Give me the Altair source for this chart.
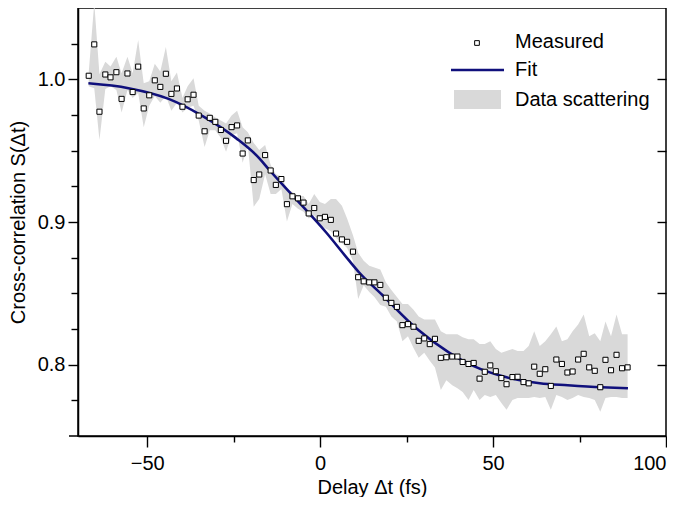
import altair as alt
import pandas as pd

# ---------------- data ----------------
delay_fs = [-66.9, -65.3, -63.8, -62.1, -60.6, -58.9, -57.4, -55.7, -54.2, -52.6,
            -51.0, -49.4, -47.8, -46.2, -44.6, -43.0, -41.4, -39.8, -38.3, -36.6,
            -35.1, -33.4, -31.9, -30.3, -28.7, -27.2, -25.6, -24.0, -22.4, -20.9,
            -19.2, -17.6, -15.9, -14.3, -12.8, -11.2, -9.6, -8.0, -6.4, -4.8,
            -3.3, -1.7, -0.1, 1.4, 3.1, 4.6, 6.3, 7.8, 9.5, 11.0,
            12.6, 14.2, 15.7, 17.4, 19.0, 20.6, 22.2, 23.8, 25.4, 27.0,
            28.5, 30.1, 31.7, 33.2, 34.9, 36.5, 38.2, 39.7, 41.2, 42.9,
            44.4, 46.1, 47.6, 49.2, 50.8, 52.4, 53.9, 55.6, 57.1, 58.8,
            60.3, 61.9, 63.5, 65.1, 66.7, 68.3, 69.9, 71.5, 73.0, 74.6,
            76.2, 77.8, 79.4, 81.0, 82.5, 84.1, 85.7, 87.3, 88.9]

measured = [1.0025, 1.0245, 0.9773, 1.0034, 1.0014, 1.0050, 0.9863, 1.0041, 0.9911, 1.0089,
            0.9796, 0.9888, 0.9993, 0.9947, 1.0039, 0.9898, 0.9936, 0.9808, 0.9860, 0.9892,
            0.9746, 0.9636, 0.9730, 0.9702, 0.9645, 0.9569, 0.9665, 0.9677, 0.9480, 0.9572,
            0.9294, 0.9333, 0.9469, 0.9361, 0.9260, 0.9301, 0.9125, 0.9180, 0.9166, 0.9136,
            0.9060, 0.9098, 0.9026, 0.9036, 0.9015, 0.8919, 0.8878, 0.8861, 0.8792, 0.8613,
            0.8584, 0.8577, 0.8577, 0.8559, 0.8469, 0.8433, 0.8405, 0.8277, 0.8284, 0.8266,
            0.8167, 0.8184, 0.8144, 0.8181, 0.8048, 0.8052, 0.8057, 0.8057, 0.8019, 0.8005,
            0.8012, 0.7902, 0.7950, 0.7995, 0.7954, 0.7906, 0.7863, 0.7913, 0.7915, 0.7878,
            0.7869, 0.7986, 0.7936, 0.7968, 0.7851, 0.8036, 0.8005, 0.7945, 0.7952, 0.8036,
            0.8076, 0.7981, 0.7957, 0.7842, 0.8034, 0.7961, 0.8069, 0.7975, 0.7981]

scatter_upper = [1.0048, 1.0536, 1.0035, 1.0124, 1.0090, 1.0158, 1.0042, 1.0158, 1.0042, 1.0275,
                 0.9973, 0.9987, 1.0110, 1.0055, 1.0227, 0.9987, 1.0048, 0.9870, 0.9952, 1.0007,
                 0.9815, 0.9780, 0.9760, 0.9732, 0.9712, 0.9691, 0.9746, 0.9780, 0.9664, 0.9629,
                 0.9554, 0.9505, 0.9540, 0.9402, 0.9334, 0.9320, 0.9231, 0.9210, 0.9182, 0.9182,
                 0.9127, 0.9196, 0.9141, 0.9127, 0.9162, 0.9162, 0.9114, 0.9024, 0.8907, 0.8784,
                 0.8729, 0.8694, 0.8681, 0.8667, 0.8578, 0.8523, 0.8475, 0.8426, 0.8426, 0.8385,
                 0.8337, 0.8316, 0.8316, 0.8316, 0.8234, 0.8213, 0.8213, 0.8213, 0.8193, 0.8179,
                 0.8179, 0.8145, 0.8145, 0.8165, 0.8110, 0.8083, 0.8096, 0.8110, 0.8096, 0.8096,
                 0.8131, 0.8234, 0.8131, 0.8165, 0.8213, 0.8268, 0.8165, 0.8179, 0.8234, 0.8282,
                 0.8351, 0.8200, 0.8220, 0.8165, 0.8303, 0.8200, 0.8351, 0.8213, 0.8213]

scatter_lower = [0.9952, 0.9938, 0.9574, 0.9932, 0.9952, 0.9925, 0.9767, 0.9925, 0.9870, 0.9904,
                 0.9664, 0.9815, 0.9883, 0.9835, 0.9883, 0.9780, 0.9835, 0.9767, 0.9801, 0.9815,
                 0.9712, 0.9526, 0.9643, 0.9643, 0.9588, 0.9492, 0.9608, 0.9622, 0.9416, 0.9540,
                 0.9107, 0.9162, 0.9334, 0.9196, 0.9196, 0.9231, 0.9004, 0.9127, 0.9093, 0.9072,
                 0.9024, 0.9045, 0.8990, 0.8956, 0.8935, 0.8887, 0.8852, 0.8818, 0.8729, 0.8461,
                 0.8557, 0.8509, 0.8475, 0.8419, 0.8406, 0.8337, 0.8303, 0.8165, 0.8200, 0.8117,
                 0.8048, 0.8083, 0.8028, 0.7980, 0.7822, 0.7890, 0.7856, 0.7835, 0.7808, 0.7753,
                 0.7822, 0.7753, 0.7787, 0.7773, 0.7787, 0.7732, 0.7684, 0.7753, 0.7767, 0.7767,
                 0.7767, 0.7773, 0.7767, 0.7773, 0.7684, 0.7787, 0.7773, 0.7753, 0.7767, 0.7787,
                 0.7773, 0.7767, 0.7753, 0.7670, 0.7767, 0.7773, 0.7773, 0.7767, 0.7767]

fit_delay = [-67.0, -55.4, -43.8, -34.2, -24.3, -17.7, -14.8, -8.1, 1.7, 8.4,
             11.3, 18.0, 27.8, 37.4, 44.1, 53.9, 63.5, 71.6, 81.4, 89.0]
fit_value = [0.9972, 0.9938, 0.9863, 0.9746, 0.9588, 0.9450, 0.9368, 0.9190, 0.8928, 0.8729,
             0.8646, 0.8488, 0.8255, 0.8083, 0.7993, 0.7911, 0.7870, 0.7856, 0.7842, 0.7835]

x_major = [-50, 0, 50, 100]
x_minor = [-25, 25, 75]
y_major = [0.8, 0.9, 1.0]
y_minor = [0.775, 0.825, 0.85, 0.875, 0.925, 0.95, 0.975, 1.025]
y_right = [0.8, 0.85, 0.9, 0.95, 1.0]
legend_labels = ["Measured", "Fit", "Data scattering"]

# ---------------- style ----------------
W, H = 588, 428
FONT = "Liberation Sans"
FS = 20
NAVY = "#10107c"
GREY = "#d9d9d9"

df = pd.DataFrame({"delay": delay_fs, "measured": measured,
                   "upper": scatter_upper, "lower": scatter_lower})
fit_df = pd.DataFrame({"delay": fit_delay, "fit": fit_value})
one = pd.DataFrame({"k": [0]})

xscale = alt.Scale(domain=[-70, 100], nice=False, zero=False)
yscale = alt.Scale(domain=[0.75, 1.05], nice=False, zero=False)

common = dict(grid=False, tickColor="black", tickWidth=1.4, labelColor="black",
              labelFont=FONT, labelFontSize=FS, titleFont=FONT, titleFontSize=FS,
              titleFontWeight="normal", titleColor="black")
with_domain = dict(common, domainColor="black", domainWidth=1.5)

band = alt.Chart(df).mark_area(color=GREY, clip=True, interpolate="linear").encode(
    x=alt.X("delay:Q", scale=xscale,
            axis=alt.Axis(values=x_major, tickSize=11, title="Delay Δt (fs)", orient="bottom",
                          labelPadding=6, titlePadding=4, format="d", **with_domain)),
    y=alt.Y("upper:Q", scale=yscale,
            axis=alt.Axis(values=y_major, tickSize=10, title="Cross-correlation S(Δt)",
                          orient="left", format=".1f", labelPadding=3, titlePadding=9, **with_domain)),
    y2="lower:Q",
)

fit = alt.Chart(fit_df).mark_line(color=NAVY, strokeWidth=2.6, interpolate="monotone").encode(
    x=alt.X("delay:Q", scale=xscale,
            axis=alt.Axis(values=x_minor, tickSize=6, labels=False, domain=False, title=None,
                          orient="bottom", **common)),
    y=alt.Y("fit:Q", scale=yscale,
            axis=alt.Axis(values=y_minor, tickSize=7, labels=False, domain=False, title=None,
                          orient="left", **common)),
)

points = alt.Chart(df).mark_point(shape="square", filled=True, fill="white", stroke="black",
                                  strokeWidth=1, size=26, opacity=1).encode(
    x=alt.X("delay:Q", scale=xscale, axis=None),
    y=alt.Y("measured:Q", scale=yscale,
            axis=alt.Axis(values=y_right, tickSize=9, labels=False, domain=False, title=None,
                          orient="left", offset=-W, **common)),
)

axis_ext = alt.Chart(one).mark_rule(color="black", strokeWidth=1.5).encode(
    x=alt.value(-9), x2=alt.value(0), y=alt.value(H))

leg_sym = alt.Chart(one).mark_point(shape="square", filled=True, fill="white", stroke="black",
                                    strokeWidth=1, size=22, opacity=1).encode(
    x=alt.value(399), y=alt.value(35))
leg_line = alt.Chart(one).mark_rule(color=NAVY, strokeWidth=2.4).encode(
    x=alt.value(373), x2=alt.value(426), y=alt.value(62))
leg_rect = alt.Chart(one).mark_rect(color=GREY).encode(
    x=alt.value(376), x2=alt.value(423), y=alt.value(82), y2=alt.value(101))

leg_texts = []
for lab, yy in zip(legend_labels, [34, 62, 92]):
    leg_texts.append(alt.Chart(one).mark_text(text=lab, align="left", baseline="middle",
                                              font=FONT, fontSize=FS, color="black").encode(
        x=alt.value(437), y=alt.value(yy)))

chart = alt.layer(band, fit, points, axis_ext, leg_sym, leg_line, leg_rect, *leg_texts).resolve_axis(
    x="independent", y="independent"
).properties(
    width=W, height=H, padding=0, background="white"
).configure_view(stroke="black", strokeWidth=1.5)

chart.save("out.html", embed_options={"renderer": "svg", "actions": False})
